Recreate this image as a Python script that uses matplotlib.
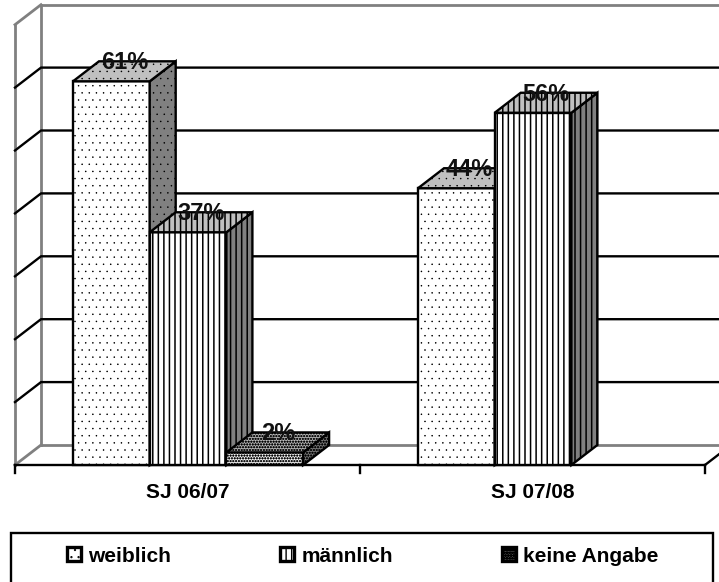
import matplotlib
matplotlib.use("Agg")
import matplotlib.pyplot as plt
import matplotlib.hatch as mhatch
from matplotlib.patches import Polygon, Patch, Rectangle

plt.rcParams['font.family'] = ['Liberation Sans', 'DejaVu Sans']


# Finer control over the small dot hatches: '..' = sparse dots, '.......' = dense screen
def _dots_init(self, hatch, density):
    n = hatch.count('.')
    self.num_rows = {0: 0, 2: 14}.get(n, 36)
    self.size = 0.06 if n == 2 else 0.3
    mhatch.Circles.__init__(self, hatch, density)


mhatch.SmallFilledCircles.__init__ = _dots_init

categories = ['SJ 06/07', 'SJ 07/08']
series = ['weiblich', 'männlich', 'keine Angabe']
weiblich = [61, 44]
maennlich = [37, 56]
keine = [2, 0]
gridvals = [0, 10, 20, 30, 40, 50, 60, 70]

W, H = 719, 582
PX_X = 345.0   # px per category
PX_Y = 6.29    # px per percent
X0, Y0 = 15, 465
DX, DY = 26 / PX_X, 20 / PX_Y
BAR = 76.7 / PX_X
GAP = 58 / PX_X

fig = plt.figure(figsize=(W / 100, H / 100), dpi=100)
ax = fig.add_axes([0, 0, 1, 1])
ax.set_xlim(-X0 / PX_X, (W - X0) / PX_X)
ax.set_ylim(-(H - Y0) / PX_Y, Y0 / PX_Y)
ax.axis('off')

GRAY = '#808080'
LW = 1.7
GLW = 2.0
# walls and floor
ymax = gridvals[-1]
xright = len(categories)
ax.plot([DX, DX], [DY, ymax + DY], color=GRAY, lw=GLW, zorder=1)
ax.plot([0, 0], [0, ymax], color=GRAY, lw=GLW, zorder=1)
ax.plot([0, DX], [ymax, ymax + DY], color=GRAY, lw=GLW, zorder=1)
ax.plot([0, DX], [0, DY], color=GRAY, lw=GLW, zorder=1)
ax.plot([DX, xright + DX], [ymax + DY, ymax + DY], color=GRAY, lw=GLW, zorder=1)
ax.plot([DX, xright + DX], [DY, DY], color=GRAY, lw=GLW, zorder=1)
for g in gridvals[1:-1]:
    ax.plot([0, DX, xright + DX], [g, g + DY, g + DY], color='black', lw=LW, zorder=1.5)
# floor front and ticks
ax.plot([0, xright], [0, 0], color='black', lw=LW, zorder=1.6)
ax.plot([xright, xright + DX], [0, DY], color='black', lw=LW, zorder=1.6)
for t in range(len(categories) + 1):
    ax.plot([t, t], [0, -8 / PX_Y], color='black', lw=LW, zorder=1.6)
for i, c in enumerate(categories):
    ax.text(i + 0.5, -28 / PX_Y, c, ha='center', va='center', fontsize=15, fontweight='bold')

styles = [('..', 0.5),
          ('|||', 1.1),
          ('.......', 0.4)]
FRONT, TOP, SIDE = 'white', '#C0C0C0', '#808080'

z = 2
for i in range(len(categories)):
    for j, vals in enumerate([weiblich, maennlich, keine]):
        v = vals[i]
        if v == 0:
            continue
        h, hlw = styles[j]
        x = i + GAP + j * BAR
        bars = ax.bar(x, v, BAR, align='edge', facecolor=FRONT, edgecolor='black', hatch=h, lw=LW, zorder=z)
        bars[0].set_hatch_linewidth(hlw)
        ax.add_patch(Polygon([(x + BAR, 0), (x + BAR + DX, DY), (x + BAR + DX, v + DY), (x + BAR, v)],
                             facecolor=SIDE, edgecolor='black', hatch=h, hatch_linewidth=hlw, lw=LW, zorder=z))
        ax.add_patch(Polygon([(x, v), (x + DX, v + DY), (x + BAR + DX, v + DY), (x + BAR, v)],
                             facecolor=TOP, edgecolor='black', hatch=h, hatch_linewidth=hlw, lw=LW, zorder=z))
        ax.text(x + BAR / 2 + DX / 2, v + DY - 0.2, f'{v}%', ha='center', va='center',
                fontsize=17, fontweight='bold', color='#111111', zorder=20)
        z += 1

# legend box: runs off the bottom edge of the picture
ax.add_patch(Rectangle((-4 / PX_X, -(600 - Y0) / PX_Y), 702 / PX_X, 67 / PX_Y,
                       facecolor='white', edgecolor='black', lw=LW, zorder=1))
handles = [Patch(facecolor='white', edgecolor='black', hatch=s[0], hatch_linewidth=s[1], lw=2.4, label=n)
           for s, n in zip(styles, series)]
leg = ax.legend(handles=handles, ncol=3, frameon=False, loc='center left',
                bbox_to_anchor=(67 / W, 1 - 556 / H), borderpad=0, borderaxespad=0,
                prop={'size': 15, 'weight': 'bold'},
                handlelength=0.68, handleheight=0.68, handletextpad=0.33, columnspacing=5.25)
fig.savefig('out.png', dpi=100)
